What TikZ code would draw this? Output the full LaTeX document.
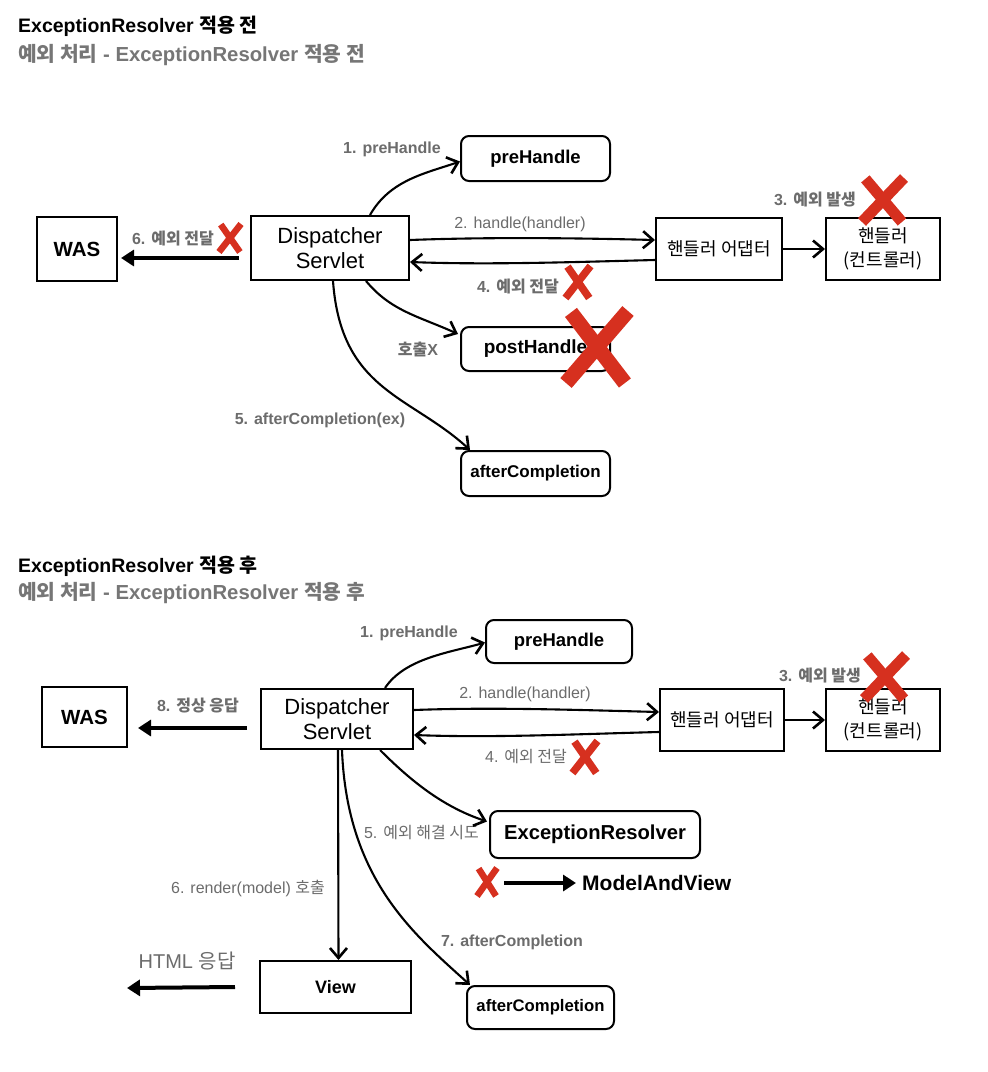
\documentclass[tikz,border=0pt]{standalone}
\usepackage{fontspec}
\setmainfont{Liberation Sans}
\newfontfamily\kr{Noto Sans CJK KR}
\usetikzlibrary{arrows.meta}
\newcommand{\K}[1]{{\kr #1}}
\definecolor{lblgray}{RGB}{108,108,108}
\definecolor{subgray}{RGB}{118,118,118}
\definecolor{xred}{RGB}{214,48,31}
\tikzset{
  box/.style={draw, line width=2pt, inner sep=0pt, align=center, font=\fontsize{22}{25}\selectfont},
  rbox/.style={box, rounded corners=8pt, font=\bfseries\fontsize{18.5}{21}\selectfont},
  lbl/.style={text=lblgray, inner sep=0pt, font=\bfseries\fontsize{16}{19}\selectfont},
  lblr/.style={text=lblgray, inner sep=0pt, font=\fontsize{16}{19}\selectfont},
  conn/.style={line width=2.1pt, -{Straight Barb[length=10pt,width=17pt,line width=2.6pt]}},
  fat/.style={line width=4pt, -{Triangle[length=13pt,width=16pt]}},
  redx/.pic={\draw[xred] (0.5,-0.5) -- (-0.5,0.5); \draw[xred] (-0.42,-0.48) -- (0.45,0.5);},
  ttl/.style={anchor=base west, inner sep=0pt, font=\bfseries\fontsize{19.5}{22}\selectfont},
  sttl/.style={anchor=base west, inner sep=0pt, text=subgray, font=\bfseries\fontsize{20.3}{22}\selectfont},
  krbox/.style={box, font=\kr\fontsize{18}{24}\selectfont}
}
\begin{document}
\begin{tikzpicture}[x=1pt,y=-1pt]
\useasboundingbox[fill=white] (0,0) rectangle (988,1072);

% ---------------- top ----------------
\node[ttl] (t1) at (18,32) {ExceptionResolver \K{적용 전}};
\node[sttl] (s1) at (18,61) {\K{예외 처리} - ExceptionResolver \K{적용 전}};

\node[box, minimum width=80pt, minimum height=64pt, font=\bfseries\fontsize{20.5}{23}\selectfont] (was1) at (77,249) {WAS};
\node[box, minimum width=158pt, minimum height=64pt] (ds1) at (330,248) {Dispatcher\\Servlet};
\node[rbox, minimum width=149pt, minimum height=45pt] (pre1) at (535.5,158.5) {preHandle};
\node[krbox, minimum width=126pt, minimum height=62pt] (ad1) at (719,249) {핸들러 어댑터};
\node[krbox, minimum width=114pt, minimum height=62pt] (h1) at (883,249) {핸들러\\(컨트롤러)};
\node[rbox, minimum width=149pt, minimum height=44pt, font=\bfseries\fontsize{19}{22}\selectfont] (post1) at (535.5,349) {postHandle};
\node[rbox, minimum width=149pt, minimum height=45pt, font=\bfseries\fontsize{17}{20}\selectfont] (ac1) at (535.5,473.5) {afterCompletion};

\node[lbl] (l11) at (392,149) {1. preHandle};
\node[lblr] (l12) at (520,224) {2. handle(handler)};
\node[lbl] (l14) at (518,287) {4. \K{예외 전달}};
\node[lbl] (l13) at (815,200) {3. \K{예외 발생}};
\node[lbl] (l16) at (173,239) {6. \K{예외 전달}};
\node[lbl] (l1x) at (418,349) {\K{호출}X};
\node[lbl] (l15) at (320,420) {5. afterCompletion(ex)};

\draw[conn] ([xshift=40pt]ds1.north) .. controls +(20,-35) and +(-35,12) .. ([yshift=-3pt]pre1.west);
\draw[conn] ([yshift=8pt]ds1.east) .. controls +(80,-3) and +(-80,-2) .. ([yshift=9pt]ad1.west);
\draw[conn] ([yshift=-11pt]ad1.west) .. controls +(-80,2) and +(80,3) .. ([yshift=-14pt]ds1.east);
\draw[conn] (ad1.east) -- (h1.west);
\draw[fat] ([xshift=-11pt,yshift=-10pt]ds1.west) -- ([xshift=3pt,yshift=-9pt]was1.east);
\draw[conn] ([xshift=36pt]ds1.south) .. controls +(25,30) and +(-40,-18) .. ([xshift=-2pt,yshift=15pt]post1.west);
\draw[conn] ([xshift=3pt]ds1.south) .. controls +(8,110) and +(-60,-55) .. ([xshift=10pt]ac1.north west);

\pic[xscale=22, yscale=28, line width=6.5pt] at (230,238) {redx};
\pic[xscale=25, yscale=32, line width=7.5pt] at (578,282) {redx};
\pic[xscale=42, yscale=44, line width=11pt] at (883,200) {redx};
\pic[xscale=62, yscale=72, line width=15pt] at (597,347) {redx};

% ---------------- bottom ----------------
\node[ttl] (t2) at (18,572) {ExceptionResolver \K{적용 후}};
\node[sttl] (s2) at (18,599) {\K{예외 처리} - ExceptionResolver \K{적용 후}};

\node[box, minimum width=85pt, minimum height=60pt, font=\bfseries\fontsize{20.5}{23}\selectfont] (was2) at (84.5,717) {WAS};
\node[box, minimum width=152pt, minimum height=60pt] (ds2) at (337,719) {Dispatcher\\Servlet};
\node[rbox, minimum width=146pt, minimum height=43pt] (pre2) at (559,641.5) {preHandle};
\node[krbox, minimum width=124pt, minimum height=62pt] (ad2) at (722,720) {핸들러 어댑터};
\node[krbox, minimum width=114pt, minimum height=62pt] (h2) at (883,720) {핸들러\\(컨트롤러)};
\node[rbox, minimum width=210pt, minimum height=47pt, font=\bfseries\fontsize{20.2}{23}\selectfont] (er2) at (595,834.5) {ExceptionResolver};
\node[anchor=west, inner sep=0pt, font=\bfseries\fontsize{21}{24}\selectfont] (mav) at (582,883) {ModelAndView};
\node[box, minimum width=151pt, minimum height=52pt, font=\bfseries\fontsize{18}{22}\selectfont] (view) at (335.5,987) {View};
\node[rbox, minimum width=147pt, minimum height=43pt, font=\bfseries\fontsize{16.7}{20}\selectfont] (ac2) at (540.5,1007.5) {afterCompletion};
\coordinate (mavstart) at (504,883);
\coordinate (htmlend) at (127,988);

\node[lbl] (l21) at (409,633) {1. preHandle};
\node[lblr] (l22) at (525,694) {2. handle(handler)};
\node[lblr] (l24) at (526,757) {4. \K{예외 전달}};
\node[lbl] (l23) at (820,676) {3. \K{예외 발생}};
\node[lbl] (l28) at (198,706) {8. \K{정상 응답}};
\node[lblr, anchor=east] (l25) at (479,833) {5. \K{예외 해결 시도}};
\node[lblr] (l26) at (248,888) {6. render(model) \K{호출}};
\node[lbl] (l27) at (512,942) {7. afterCompletion};
\node[lblr, font=\fontsize{20}{23}\selectfont] (lhtml) at (187,961) {HTML \K{응답}};

\draw[conn] ([xshift=48pt]ds2.north) .. controls +(20,-30) and +(-35,10) .. ([yshift=-1pt]pre2.west);
\draw[conn] ([yshift=9pt]ds2.east) .. controls +(80,-3) and +(-80,-2) .. ([yshift=8pt]ad2.west);
\draw[conn] ([yshift=-12pt]ad2.west) .. controls +(-80,2) and +(80,3) .. ([yshift=-16pt]ds2.east);
\draw[conn] (ad2.east) -- (h2.west);
\draw[fat] ([xshift=-13pt,yshift=-9pt]ds2.west) -- ([xshift=10pt,yshift=-11pt]was2.east);
\draw[conn] ([xshift=43pt]ds2.south) .. controls +(30,30) and +(-45,-15) .. ([xshift=-2pt,yshift=13pt]er2.west);
\draw[conn] ([xshift=1pt]ds2.south) -- ([xshift=3pt]view.north);
\draw[conn] ([xshift=5pt]ds2.south) .. controls +(5,130) and +(-55,-50) .. ([xshift=4pt]ac2.north west);
\draw[fat] (mavstart) -- ([xshift=-6pt]mav.west);
\draw[fat] ([xshift=-24pt]view.west) -- (htmlend);

\pic[xscale=25, yscale=32, line width=7.5pt] at (585,757) {redx};
\pic[xscale=42, yscale=44, line width=11pt] at (885,677) {redx};
\pic[xscale=20, yscale=28, line width=6.5pt] at (487,882) {redx};
\end{tikzpicture}
\end{document}
